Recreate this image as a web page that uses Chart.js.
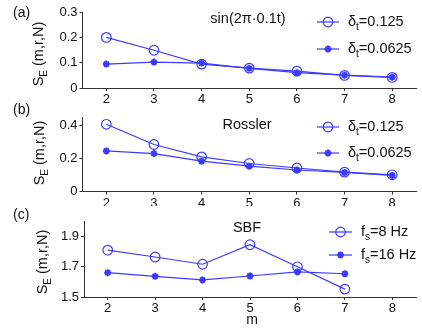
<!DOCTYPE html>
<html><head><meta charset="utf-8">
<script src="https://cdn.jsdelivr.net/npm/chart.js@4"></script>
<style>
html,body{margin:0;padding:0;background:#fff;width:422px;height:328px;overflow:hidden}
.p{position:absolute;left:0;width:422px}
</style></head>
<body>
<div class="p" style="top:0;height:106px"><canvas id="ca"></canvas></div>
<div class="p" style="top:98px;height:108px"><canvas id="cb"></canvas></div>
<div class="p" style="top:204px;height:124px"><canvas id="cc"></canvas></div>
<script>
// ---- data ----
const mAB = [2,3,4,5,6,7,8];
const mC = [2,3,4,5,6,7];
const xTicks = [2,3,4,5,6,7,8];
const sinDt125 = [0.201,0.150,0.095,0.079,0.067,0.050,0.042];
const sinDt0625 = [0.095,0.103,0.099,0.078,0.061,0.051,0.043];
const rosDt125 = [0.406,0.284,0.209,0.169,0.142,0.117,0.101];
const rosDt0625 = [0.245,0.229,0.183,0.153,0.130,0.115,0.097];
const sbf8 = [1.810,1.765,1.717,1.846,1.700,1.552];
const sbf16 = [1.661,1.637,1.613,1.639,1.666,1.654];
const yTicksA = [0,0.1,0.2,0.3];
const yTicksB = [0,0.2,0.4];
const yTicksC = [1.5,1.7,1.9];
const labelsA = ['\u03b4|t|=0.125','\u03b4|t|=0.0625'];
const labelsC = ['f|s|=8 Hz','f|s|=16 Hz'];

const BLUE = '#3b3bff';
const AX = '#333';
const FAM = '"Liberation Sans", Arial, Helvetica, sans-serif';

function pts(xs, ys){ return xs.map((x,i)=>({x:x, y:ys[i]})); }

// draw "base|sub|rest" text
function richText(ctx, str, x, y, size, align){
  const parts = str.split('|');
  const fBig = size + 'px ' + FAM, fSmall = Math.round(size*0.72) + 'px ' + FAM;
  ctx.font = fBig; const w0 = ctx.measureText(parts[0]).width;
  ctx.font = fSmall; const w1 = parts[1] ? ctx.measureText(parts[1]).width : 0;
  ctx.font = fBig; const w2 = parts[2] ? ctx.measureText(parts[2]).width : 0;
  const tot = w0+w1+w2;
  let sx = align === 'center' ? x - tot/2 : x;
  ctx.textAlign = 'left'; ctx.textBaseline = 'middle';
  ctx.font = fBig; ctx.fillText(parts[0], sx, y);
  if (parts[1]) { ctx.font = fSmall; ctx.fillText(parts[1], sx+w0, y + size*0.38); }
  if (parts[2]) { ctx.font = fBig; ctx.fillText(parts[2], sx+w0+w1, y); }
}

const decoPlugin = {
  id: 'deco',
  afterDraw(chart, args, o){
    const ctx = chart.ctx;
    ctx.save();
    ctx.fillStyle = '#111';
    ctx.font = '14px ' + FAM; ctx.textAlign = 'left'; ctx.textBaseline = 'middle';
    ctx.fillText(o.panel, 13, o.panelY);
    ctx.font = '14.5px ' + FAM; ctx.textAlign = 'center';
    ctx.fillText(o.title, o.titleX, o.titleY);
    ctx.save();
    ctx.translate(o.ytX, o.ytY);
    ctx.rotate(-Math.PI/2);
    richText(ctx, 'S|E| (m,r,N)', 0, 0, 14.5, 'center');
    ctx.restore();
    if (o.xTitle) {
      ctx.font = '14px ' + FAM; ctx.textAlign = 'center'; ctx.textBaseline = 'middle';
      ctx.fillText(o.xTitle, o.xTitleX, o.xTitleY);
    }
    o.legend.forEach((e, i) => {
      const y = o.legY[i];
      ctx.strokeStyle = BLUE; ctx.lineWidth = 1.2;
      ctx.beginPath(); ctx.moveTo(o.legX1, y); ctx.lineTo(o.legX2, y); ctx.stroke();
      const ds = chart.data.datasets[i];
      ctx.fillStyle = ds.pointBackgroundColor; ctx.strokeStyle = BLUE;
      ctx.lineWidth = ds.pointBorderWidth;
      Chart.helpers.drawPoint(ctx, {pointStyle: ds.pointStyle, radius: ds.pointRadius, borderWidth: ds.pointBorderWidth, rotation: 0}, (o.legX1+o.legX2)/2, y);
      ctx.fillStyle = '#111';
      richText(ctx, e, o.legTX, y, 14.5, 'left');
    });
    ctx.restore();
  }
};

function make(id, cfg){
  const ds = [
    {data: cfg.d1, borderColor: BLUE, borderWidth: 1.2, pointStyle: 'circle', pointRadius: 4.8,
     pointBorderWidth: 1.2, pointBackgroundColor: 'rgba(0,0,0,0)', pointBorderColor: BLUE, tension: 0, clip: false},
    {data: cfg.d2, borderColor: BLUE, borderWidth: 1.2, pointStyle: 'star', pointRadius: 3.5,
     pointBorderWidth: 2, pointBackgroundColor: BLUE, pointBorderColor: BLUE, tension: 0, clip: false}
  ];
  const H = cfg.h, top = cfg.top;
  return new Chart(document.getElementById(id), {
    type: 'line',
    data: {datasets: ds},
    plugins: [decoPlugin],
    options: {
      responsive: true, maintainAspectRatio: false, animation: false,
      events: [],
      layout: {padding: {left: 0, right: 422 - cfg.area.right, top: cfg.area.top - top, bottom: 0}},
      plugins: {legend: {display: false}, tooltip: {enabled: false}, deco: cfg.deco},
      scales: {
        x: {type: 'linear', min: 1.5, max: 8.5,
            afterBuildTicks: s => { s.ticks = xTicks.map(v => ({value: v})); },
            afterFit: s => { s.height = top + H - cfg.area.bottom; },
            grid: {display: true, drawOnChartArea: false, drawTicks: true, tickLength: 3, color: AX},
            border: {display: true, color: AX, width: 1},
            ticks: {autoSkip: false, maxRotation: 0, color: '#111', padding: 1, font: {family: FAM, size: 13}}},
        y: {type: 'linear', min: cfg.ymin, max: cfg.ymax,
            afterBuildTicks: s => { s.ticks = cfg.yt.map(v => ({value: v})); },
            afterFit: s => { s.width = cfg.area.left; },
            grid: {display: true, drawOnChartArea: false, drawTicks: true, tickLength: 3, color: AX},
            border: {display: true, color: AX, width: 1},
            ticks: {autoSkip: false, color: '#111', padding: 2, font: {family: FAM, size: 13}}}
      }
    }
  });
}

make('ca', {top: 0, h: 106, area: {left: 82.5, right: 416, top: 12.5, bottom: 88},
  ymin: 0, ymax: 0.3, yt: yTicksA, d1: pts(mAB, sinDt125), d2: pts(mAB, sinDt0625),
  deco: {panel: '(a)', panelY: 13, title: 'sin(2\u03c0\u00b70.1t)', titleX: 248, titleY: 19,
    ytX: 39, ytY: 54, legend: labelsA, legY: [22, 49], legX1: 317, legX2: 339, legTX: 348}});

make('cb', {top: 98, h: 108, area: {left: 82.5, right: 416, top: 117, bottom: 191.5},
  ymin: 0, ymax: 0.45, yt: yTicksB, d1: pts(mAB, rosDt125), d2: pts(mAB, rosDt0625),
  deco: {panel: '(b)', panelY: 12, title: 'Rossler', titleX: 247, titleY: 27,
    ytX: 40, ytY: 55, legend: labelsA, legY: [29, 55], legX1: 317, legX2: 339, legTX: 348}});

make('cc', {top: 204, h: 124, area: {left: 84, right: 416.5, top: 221.5, bottom: 297},
  ymin: 1.5, ymax: 2.0, yt: yTicksC, d1: pts(mC, sbf8), d2: pts(mC, sbf16),
  deco: {panel: '(c)', panelY: 11, title: 'SBF', titleX: 247, titleY: 24,
    ytX: 43, ytY: 58, xTitle: 'm', xTitleX: 252, xTitleY: 116,
    legend: labelsC, legY: [28, 51], legX1: 329, legX2: 352, legTX: 361}});
</script>
</body></html>
